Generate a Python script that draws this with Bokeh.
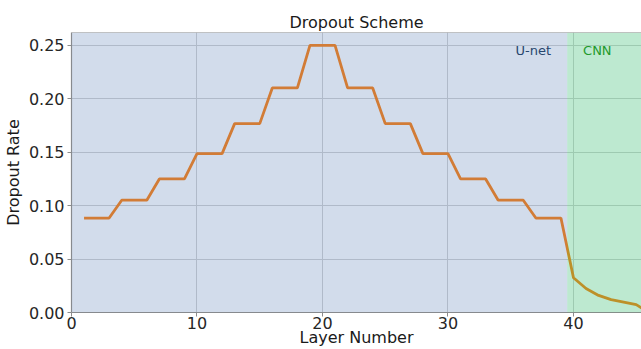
from bokeh.plotting import figure
from bokeh.models import BoxAnnotation, Label, Span, Range1d, NumeralTickFormatter, ColumnDataSource
from bokeh.embed import file_html
from bokeh.resources import INLINE

# Dropout rate per layer: U-net layers 1-39, CNN layers 40 onward
layers = list(range(1, 47))
unet_rates = [0.0884, 0.0884, 0.0884,
              0.1051, 0.1051, 0.1051,
              0.125, 0.125, 0.125,
              0.1487, 0.1487, 0.1487,
              0.1768, 0.1768, 0.1768,
              0.2102, 0.2102, 0.2102,
              0.25, 0.25, 0.25,
              0.2102, 0.2102, 0.2102,
              0.1768, 0.1768, 0.1768,
              0.1487, 0.1487, 0.1487,
              0.125, 0.125, 0.125,
              0.1051, 0.1051, 0.1051,
              0.0884, 0.0884, 0.0884]
cnn_rates = [0.0325, 0.0225, 0.016, 0.012, 0.0097, 0.0074, 0.0]
rates = unet_rates + cnn_rates

x_ticks = [0, 10, 20, 30, 40]
y_ticks = [0.0, 0.05, 0.10, 0.15, 0.20, 0.25]
unet_span = (0, 39.5)
cnn_span = (39.5, 47)

FONT = "DejaVu Sans"

p = figure(width=641, height=349,
           x_range=Range1d(0, 45.42), y_range=Range1d(0, 0.2621),
           output_backend="svg", toolbar_location=None,
           min_border_left=70, min_border_right=0,
           min_border_top=32, min_border_bottom=35,
           title="Dropout Scheme")

p.background_fill_color = "white"
p.border_fill_color = "white"
p.outline_line_color = None

p.title.text_font = FONT
p.title.text_font_size = "16px"
p.title.text_font_style = "normal"
p.title.text_color = "#1a1a1a"
p.title.align = "center"
p.title.offset = 3
p.title.standoff = 1

for ax in (p.xaxis, p.yaxis):
    ax.major_label_text_font = FONT
    ax.major_label_text_font_size = "16px"
    ax.major_label_text_color = "#262626"
    ax.axis_label_text_font = FONT
    ax.axis_label_text_font_size = "16px"
    ax.axis_label_text_font_style = "normal"
    ax.axis_label_text_color = "#1a1a1a"
    ax.axis_line_color = "#8c8c8c"
    ax.axis_line_width = 1.2
    ax.major_tick_line_color = "#8c8c8c"
    ax.major_tick_in = 0
    ax.major_tick_out = 4
    ax.minor_tick_line_color = None

p.xaxis.axis_label = "Layer Number"
p.xaxis.ticker = x_ticks
p.xaxis.major_label_standoff = 0
p.xaxis.axis_label_standoff = -4

p.yaxis.axis_label = "Dropout Rate"
p.yaxis.ticker = y_ticks
p.yaxis.formatter = NumeralTickFormatter(format="0.00")
p.yaxis.major_label_standoff = 3
p.yaxis.axis_label_standoff = 3

p.xgrid.grid_line_color = "#d2d2d2"
p.ygrid.grid_line_color = "#d2d2d2"
p.xgrid.grid_line_width = 1
p.ygrid.grid_line_width = 1

src = ColumnDataSource(dict(layer=layers, rate=rates))
p.line("layer", "rate", source=src, line_color="#ff7f0e", line_width=2.8)

# translucent region shading laid over the curve
p.add_layout(BoxAnnotation(left=unet_span[0], right=unet_span[1],
                           fill_color="#4c72b0", fill_alpha=0.25, line_color=None))
p.add_layout(BoxAnnotation(left=cnn_span[0], right=cnn_span[1],
                           fill_color="#2ab867", fill_alpha=0.31, line_color=None))

# top spine
p.add_layout(Span(location=0.2621, dimension="width", line_color="#8c8c8c", line_width=1.2))

p.add_layout(Label(x=36.8, y=0.245, text="U-net", text_font=FONT, text_font_size="13px",
                   text_color="#27466e", text_align="center", text_baseline="middle"))
p.add_layout(Label(x=41.9, y=0.245, text="CNN", text_font=FONT, text_font_size="13px",
                   text_color="#1f9a2b", text_align="center", text_baseline="middle"))

open("out.html", "w").write(file_html(p, INLINE))
